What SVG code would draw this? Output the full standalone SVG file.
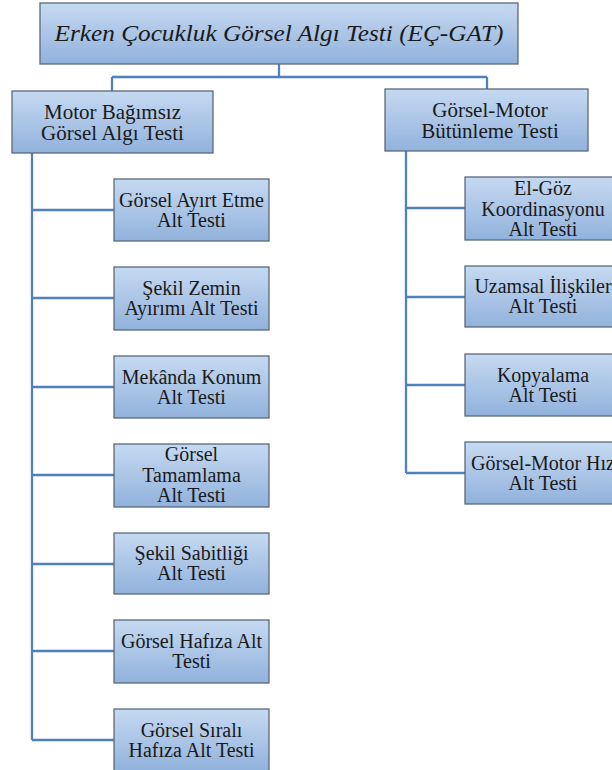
<svg xmlns="http://www.w3.org/2000/svg" width="612" height="770" viewBox="0 0 612 770">
  <defs>
    <linearGradient id="boxFill" x1="0" y1="0" x2="0" y2="1">
      <stop offset="0" stop-color="#c6d9f1"/>
      <stop offset="1" stop-color="#91b2dc"/>
    </linearGradient>
    <style>
      .box { fill: url(#boxFill); stroke: #5a6a7c; stroke-width: 1.3; }
      text { font-family: 'Liberation Serif', 'Times New Roman', serif; fill: #1a1a1a; text-anchor: middle; }
      .t0 { font-size: 23px; font-style: italic; }
      .t1 { font-size: 21px; }
      .t2 { font-size: 20px; }
      .wire { fill: none; stroke: #4f81bd; stroke-width: 2.3; }
    </style>
  </defs>
  <rect width="612" height="770" fill="#ffffff"/>

  <!-- connectors -->
  <g id="connectors" class="wire">
    <path d="M279 64 V77 M112 77 H487 M112 77 V91 M487 77 V89"/>
    <path d="M32 153 V740 M32 210 H114 M32 298 H114 M32 387 H114 M32 475 H114 M32 564 H114 M32 651 H114 M32 740 H114"/>
    <path d="M406 151 V473 M406 208 H465 M406 297 H465 M406 385 H465 M406 473 H465"/>
  </g>

  <!-- root -->
  <g id="root">
    <rect class="box" x="40" y="3" width="478" height="61"/>
    <text class="t0" x="279" y="41" textLength="449" lengthAdjust="spacingAndGlyphs">Erken Çocukluk Görsel Algı Testi (EÇ-GAT)</text>
  </g>

  <!-- first level -->
  <g id="motor-bagimsiz">
    <rect class="box" x="12" y="91" width="201" height="62"/>
    <text class="t1"><tspan x="112.5" y="119">Motor Bağımsız</tspan><tspan x="112.5" y="140">Görsel Algı Testi</tspan></text>
  </g>
  <g id="gorsel-motor">
    <rect class="box" x="385" y="89" width="203" height="62"/>
    <text class="t1"><tspan x="490" y="117">Görsel-Motor</tspan><tspan x="490" y="138">Bütünleme Testi</tspan></text>
  </g>

  <!-- left subtests -->
  <g id="ayirt-etme">
    <rect class="box" x="114" y="179" width="155" height="62"/>
    <text class="t2"><tspan x="191.5" y="207">Görsel Ayırt Etme</tspan><tspan x="191.5" y="227">Alt Testi</tspan></text>
  </g>
  <g id="sekil-zemin">
    <rect class="box" x="114" y="267" width="155" height="63"/>
    <text class="t2"><tspan x="191.5" y="295">Şekil Zemin</tspan><tspan x="191.5" y="315">Ayırımı Alt Testi</tspan></text>
  </g>
  <g id="mekanda-konum">
    <rect class="box" x="114" y="356" width="155" height="62"/>
    <text class="t2"><tspan x="191.5" y="384">Mekânda Konum</tspan><tspan x="191.5" y="404">Alt Testi</tspan></text>
  </g>
  <g id="tamamlama">
    <rect class="box" x="114" y="444" width="155" height="63"/>
    <text class="t2"><tspan x="191.5" y="461">Görsel</tspan><tspan x="191.5" y="481.5">Tamamlama</tspan><tspan x="191.5" y="502">Alt Testi</tspan></text>
  </g>
  <g id="sekil-sabitligi">
    <rect class="box" x="114" y="533" width="155" height="61"/>
    <text class="t2"><tspan x="191.5" y="560">Şekil Sabitliği</tspan><tspan x="191.5" y="580">Alt Testi</tspan></text>
  </g>
  <g id="hafiza">
    <rect class="box" x="114" y="620" width="155" height="63"/>
    <text class="t2"><tspan x="191.5" y="648">Görsel Hafıza Alt</tspan><tspan x="191.5" y="668">Testi</tspan></text>
  </g>
  <g id="sirali-hafiza">
    <rect class="box" x="114" y="709" width="155" height="62"/>
    <text class="t2"><tspan x="191.5" y="737">Görsel Sıralı</tspan><tspan x="191.5" y="757">Hafıza Alt Testi</tspan></text>
  </g>

  <!-- right subtests -->
  <g id="el-goz">
    <rect class="box" x="465" y="177" width="156" height="63"/>
    <text class="t2"><tspan x="543" y="195">El-Göz</tspan><tspan x="543" y="215.5">Koordinasyonu</tspan><tspan x="543" y="236">Alt Testi</tspan></text>
  </g>
  <g id="uzamsal">
    <rect class="box" x="465" y="266" width="156" height="61"/>
    <text class="t2"><tspan x="543" y="293">Uzamsal İlişkiler</tspan><tspan x="543" y="313">Alt Testi</tspan></text>
  </g>
  <g id="kopyalama">
    <rect class="box" x="465" y="354" width="156" height="62"/>
    <text class="t2"><tspan x="543" y="382">Kopyalama</tspan><tspan x="543" y="402">Alt Testi</tspan></text>
  </g>
  <g id="gorsel-motor-hiz">
    <rect class="box" x="465" y="442" width="156" height="62"/>
    <text class="t2"><tspan x="543" y="470">Görsel-Motor Hız</tspan><tspan x="543" y="490">Alt Testi</tspan></text>
  </g>
</svg>
